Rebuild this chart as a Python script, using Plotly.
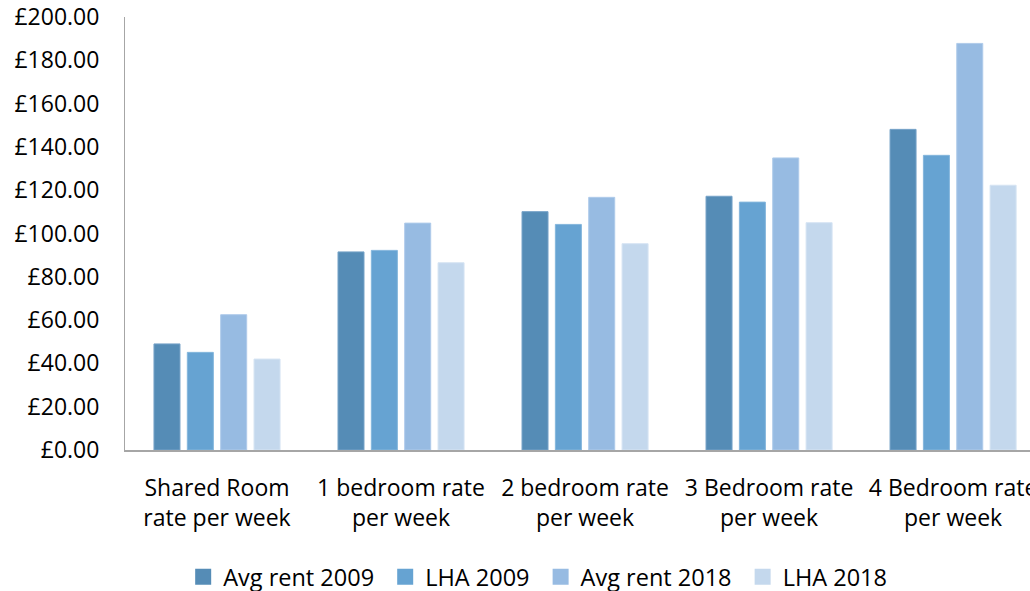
import plotly.graph_objects as go

categories = [
    "Shared Room<br>rate per week",
    "1 bedroom rate<br>per week",
    "2 bedroom rate<br>per week",
    "3 Bedroom rate<br>per week",
    "4 Bedroom rate<br>per week",
]
avg_rent_2009 = [49.0, 91.5, 110.1, 117.2, 148.1]
lha_2009 = [45.1, 92.2, 104.2, 114.5, 136.1]
avg_rent_2018 = [62.5, 104.8, 116.7, 134.9, 187.8]
lha_2018 = [42.0, 86.5, 95.3, 105.0, 122.3]

series_names = ["Avg rent 2009", "LHA 2009", "Avg rent 2018", "LHA 2018"]
series_values = [avg_rent_2009, lha_2009, avg_rent_2018, lha_2018]
colors = ["#558CB6", "#66A3D2", "#97BBE2", "#C4D8ED"]
edge_colors = ["#77A3C8", "#84B6DC", "#AFCBEA", "#D6E4F3"]

y_ticks = list(range(0, 201, 20))
y_tick_labels = [f"£{v:.2f}" for v in y_ticks]

FONT = "Open Sans, Lato, sans-serif"

fig = go.Figure()
for name, vals, c, ec in zip(series_names, series_values, colors, edge_colors):
    fig.add_trace(go.Bar(
        x=categories, y=vals, name=name, showlegend=False,
        marker=dict(color=c, line=dict(color=ec, width=1)),
    ))
# legend entries with larger square swatches (non-breaking space pads spacing)
for i, (name, c) in enumerate(zip(series_names, colors)):
    label = name + ("\u00a0" if i < len(series_names) - 1 else "")
    fig.add_trace(go.Scatter(
        x=[None], y=[None], mode="markers", name=label,
        marker=dict(symbol="square", size=16, color=c),
    ))

fig.update_layout(
    width=1030, height=591,
    margin=dict(l=125, r=0, t=17, b=141, autoexpand=False),
    paper_bgcolor="white", plot_bgcolor="white",
    font=dict(family=FONT, size=23, color="#000000"),
    barmode="group", bargap=0.275, bargroupgap=0.22,
    legend=dict(
        orientation="h", x=0.456, xanchor="center", y=-0.293, yanchor="middle",
        font=dict(family=FONT, size=23.5, color="#000000"),
        itemwidth=30, tracegroupgap=0,
    ),
    showlegend=True,
)
fig.update_xaxes(
    type="category", range=[-0.5, 4.418],
    showline=True, linecolor="#A6A6A6", linewidth=2,
    showgrid=False, ticks="", automargin=False,
    ticklabelstandoff=16,
    tickfont=dict(family=FONT, size=23, color="#000000"),
)
fig.update_yaxes(
    range=[0, 200], tickvals=y_ticks, ticktext=y_tick_labels,
    showline=True, linecolor="#A6A6A6", linewidth=1,
    showgrid=False, zeroline=False, ticks="", automargin=False,
    ticklabelstandoff=20,
    tickfont=dict(family=FONT, size=23, color="#000000"),
)

fig.write_html("out.html")
